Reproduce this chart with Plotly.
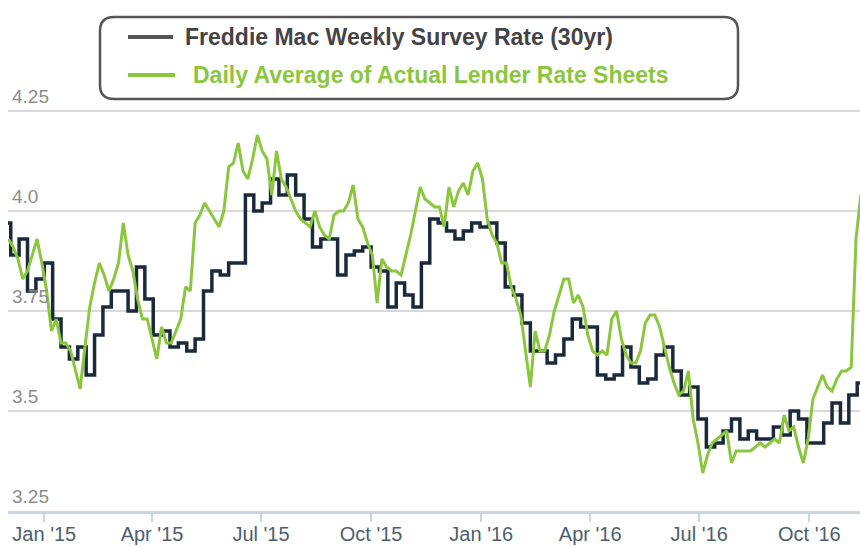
import pandas as pd
import plotly.graph_objects as go

# ---------------- data ----------------
freddie_dates = [
    "2014-11-27", "2014-12-04", "2014-12-11", "2014-12-18", "2014-12-25",
    "2015-01-01", "2015-01-08", "2015-01-15", "2015-01-22", "2015-01-29",
    "2015-02-05", "2015-02-12", "2015-02-19", "2015-02-26", "2015-03-05",
    "2015-03-12", "2015-03-19", "2015-03-26", "2015-04-02", "2015-04-09",
    "2015-04-16", "2015-04-23", "2015-04-30", "2015-05-07", "2015-05-14",
    "2015-05-21", "2015-05-28", "2015-06-04", "2015-06-11", "2015-06-18",
    "2015-06-25", "2015-07-02", "2015-07-09", "2015-07-16", "2015-07-23",
    "2015-07-30", "2015-08-06", "2015-08-13", "2015-08-20", "2015-08-27",
    "2015-09-03", "2015-09-10", "2015-09-17", "2015-09-24", "2015-10-01",
    "2015-10-08", "2015-10-15", "2015-10-22", "2015-10-29", "2015-11-05",
    "2015-11-12", "2015-11-19", "2015-11-26", "2015-12-03", "2015-12-10",
    "2015-12-17", "2015-12-24", "2015-12-31", "2016-01-07", "2016-01-14",
    "2016-01-21", "2016-01-28", "2016-02-04", "2016-02-11", "2016-02-18",
    "2016-02-25", "2016-03-03", "2016-03-10", "2016-03-17", "2016-03-24",
    "2016-03-31", "2016-04-07", "2016-04-14", "2016-04-21", "2016-04-28",
    "2016-05-05", "2016-05-12", "2016-05-19", "2016-05-26", "2016-06-02",
    "2016-06-09", "2016-06-16", "2016-06-23", "2016-06-30", "2016-07-07",
    "2016-07-14", "2016-07-21", "2016-07-28", "2016-08-04", "2016-08-11",
    "2016-08-18", "2016-08-25", "2016-09-01", "2016-09-08", "2016-09-15",
    "2016-09-22", "2016-09-29", "2016-10-06", "2016-10-13", "2016-10-20",
    "2016-10-27", "2016-11-03", "2016-11-10", "2016-11-14",
]
freddie_rates = [
    3.97, 3.89, 3.93, 3.80, 3.83,
    3.87, 3.73, 3.66, 3.63, 3.66,
    3.59, 3.69, 3.76, 3.80, 3.80,
    3.75, 3.86, 3.78, 3.69, 3.70,
    3.66, 3.67, 3.65, 3.68, 3.80,
    3.85, 3.84, 3.87, 3.87, 4.04,
    4.00, 4.02, 4.08, 4.04, 4.09,
    4.04, 3.98, 3.91, 3.93, 3.93,
    3.84, 3.89, 3.90, 3.91, 3.86,
    3.85, 3.76, 3.82, 3.79, 3.76,
    3.87, 3.98, 3.97, 3.95, 3.93,
    3.95, 3.97, 3.96, 3.97, 3.92,
    3.81, 3.79, 3.72, 3.65, 3.65,
    3.62, 3.64, 3.68, 3.73, 3.71,
    3.71, 3.59, 3.58, 3.59, 3.66,
    3.61, 3.57, 3.58, 3.64, 3.66,
    3.60, 3.54, 3.56, 3.48, 3.41,
    3.42, 3.45, 3.48, 3.43, 3.45,
    3.43, 3.43, 3.46, 3.44, 3.50,
    3.48, 3.42, 3.42, 3.47, 3.52,
    3.47, 3.54, 3.57, 3.57,
]

# lender rate sheets, read every 4 days starting 2014-12-02
lender_start = "2014-12-02"
lender_rates = [
    3.93, 3.91, 3.88, 3.83, 3.85, 3.89, 3.93, 3.87, 3.80, 3.70,
    3.73, 3.67, 3.67, 3.65, 3.60, 3.555, 3.66, 3.76, 3.82, 3.87,
    3.84, 3.80, 3.83, 3.87, 3.97, 3.89, 3.85, 3.78, 3.73, 3.73,
    3.68, 3.63, 3.71, 3.67, 3.67, 3.70, 3.73, 3.81, 3.80, 3.97,
    3.99, 4.02, 4.00, 3.98, 3.96, 4.00, 4.11, 4.12, 4.17, 4.10,
    4.08, 4.13, 4.19, 4.15, 4.13, 4.04, 4.15, 4.08, 4.06, 4.03,
    4.00, 3.98, 3.97, 3.96, 4.00, 3.96, 3.94, 3.93, 3.99, 4.00,
    4.00, 4.02, 4.065, 3.98, 3.96, 3.92, 3.89, 3.77, 3.88, 3.86,
    3.85, 3.85, 3.84, 3.89, 3.94, 4.00, 4.06, 4.03, 4.02, 4.01,
    4.01, 3.96, 4.06, 4.01, 4.05, 4.07, 4.04, 4.10, 4.12, 4.08,
    3.98, 3.94, 3.92, 3.87, 3.87, 3.81, 3.78, 3.74, 3.65, 3.56,
    3.70, 3.65, 3.65, 3.69, 3.75, 3.79, 3.83, 3.83, 3.77, 3.79,
    3.76, 3.69, 3.65, 3.64, 3.65, 3.64, 3.73, 3.75, 3.68, 3.64,
    3.62, 3.62, 3.65, 3.72, 3.74, 3.74, 3.71, 3.66, 3.61, 3.57,
    3.54, 3.55, 3.60, 3.48, 3.42, 3.345, 3.39, 3.42, 3.43, 3.44,
    3.45, 3.37, 3.40, 3.40, 3.40, 3.40, 3.41, 3.42, 3.41, 3.42,
    3.43, 3.42, 3.49, 3.45, 3.46, 3.41, 3.37, 3.43, 3.53, 3.56,
    3.59, 3.56, 3.55, 3.58, 3.60, 3.60, 3.61, 3.93, 4.04,
]

x_tick_dates = ["2015-01-01", "2015-04-01", "2015-07-01", "2015-10-01",
                "2016-01-01", "2016-04-01", "2016-07-01", "2016-10-01"]
x_tick_labels = ["Jan '15", "Apr '15", "Jul '15", "Oct '15",
                 "Jan '16", "Apr '16", "Jul '16", "Oct '16"]
y_tick_values = [3.25, 3.5, 3.75, 4.0, 4.25]
y_tick_labels = ["3.25", "3.5", "3.75", "4.0", "4.25"]
y_grid_values = [3.25, 3.5, 3.75, 4.0, 4.25, 4.5]

series_names = ["Freddie Mac Weekly Survey Rate (30yr)",
                "Daily Average of Actual Lender Rate Sheets"]

# ---------------- styling ----------------
NAVY = "#1b2a3b"
GREEN = "#8cc63f"
FONT = "Liberation Sans, Arial, sans-serif"

W, H = 860, 547
ML, MR, MT, MB = 8, 0, 11, 36
PW, PH = W - ML - MR, H - MT - MB


def px(x):
    return (x - ML) / PW


def py(y):
    return (H - MB - y) / PH


lender_dates = pd.date_range(lender_start, periods=len(lender_rates), freq="4D")

fig = go.Figure()
fig.add_trace(go.Scatter(
    x=pd.to_datetime(freddie_dates), y=freddie_rates, mode="lines",
    line=dict(color=NAVY, width=3.5, shape="hv"),
    name=series_names[0], showlegend=False,
))
fig.add_trace(go.Scatter(
    x=lender_dates, y=lender_rates, mode="lines",
    line=dict(color=GREEN, width=3),
    name=series_names[1], showlegend=False,
))

# rounded legend box
x0, x1 = px(100), px(738)
y0, y1 = py(99), py(17)
rx, ry = 14 / PW, 14 / PH
path = (f"M {x0+rx},{y1} L {x1-rx},{y1} Q {x1},{y1} {x1},{y1-ry} "
        f"L {x1},{y0+ry} Q {x1},{y0} {x1-rx},{y0} L {x0+rx},{y0} "
        f"Q {x0},{y0} {x0},{y0+ry} L {x0},{y1-ry} Q {x0},{y1} {x0+rx},{y1} Z")
shapes = [
    dict(type="path", xref="paper", yref="paper", path=path,
         line=dict(color="#555555", width=2.5), fillcolor="white", layer="above"),
    dict(type="line", xref="paper", yref="paper", x0=px(128), x1=px(173),
         y0=py(37), y1=py(37), line=dict(color="#555555", width=4)),
    dict(type="line", xref="paper", yref="paper", x0=px(128), x1=px(175),
         y0=py(75), y1=py(75), line=dict(color=GREEN, width=4)),
]
annotations = [
    dict(xref="paper", yref="paper", x=px(183), y=py(37), xanchor="left",
         yanchor="middle", text=series_names[0], showarrow=False,
         font=dict(family=FONT, size=23, color="#444444", weight="bold")),
    dict(xref="paper", yref="paper", x=px(191), y=py(75), xanchor="left",
         yanchor="middle", text=series_names[1], showarrow=False,
         font=dict(family=FONT, size=23, color=GREEN, weight="bold")),
]
# y-axis value labels sitting just above their gridlines
for v, t in zip(y_tick_values, y_tick_labels):
    annotations.append(dict(
        xref="paper", yref="y", x=px(10), y=v, xanchor="left", yanchor="bottom",
        yshift=2, text=t, showarrow=False,
        font=dict(family=FONT, size=19, color="#8c8c8c"),
    ))

fig.update_layout(
    width=W, height=H,
    margin=dict(l=ML, r=MR, t=MT, b=MB, pad=0, autoexpand=False),
    paper_bgcolor="white", plot_bgcolor="white",
    showlegend=False,
    shapes=shapes, annotations=annotations,
    xaxis=dict(
        type="date", range=["2014-12-01 17:00", "2016-11-12 08:00"],
        tickvals=x_tick_dates, ticktext=x_tick_labels,
        showgrid=False, zeroline=False, automargin=False,
        showline=True, linecolor="#c9d5df", linewidth=3,
        ticks="outside", ticklen=8, tickwidth=2, tickcolor="#c9d5df",
        ticklabelstandoff=-5,
        tickfont=dict(family=FONT, size=20, color="#4d5e6e"),
        fixedrange=True,
    ),
    yaxis=dict(
        range=[3.25, 4.5], tickvals=y_grid_values,
        showgrid=True, gridcolor="#d9d9d9", gridwidth=2, automargin=False,
        zeroline=False, showline=False, ticks="", showticklabels=False,
        fixedrange=True,
    ),
)

fig.write_html(
    "out.html",
    config={"displayModeBar": False},
    post_script="document.body.style.margin='0';document.body.style.overflow='hidden';",
)
